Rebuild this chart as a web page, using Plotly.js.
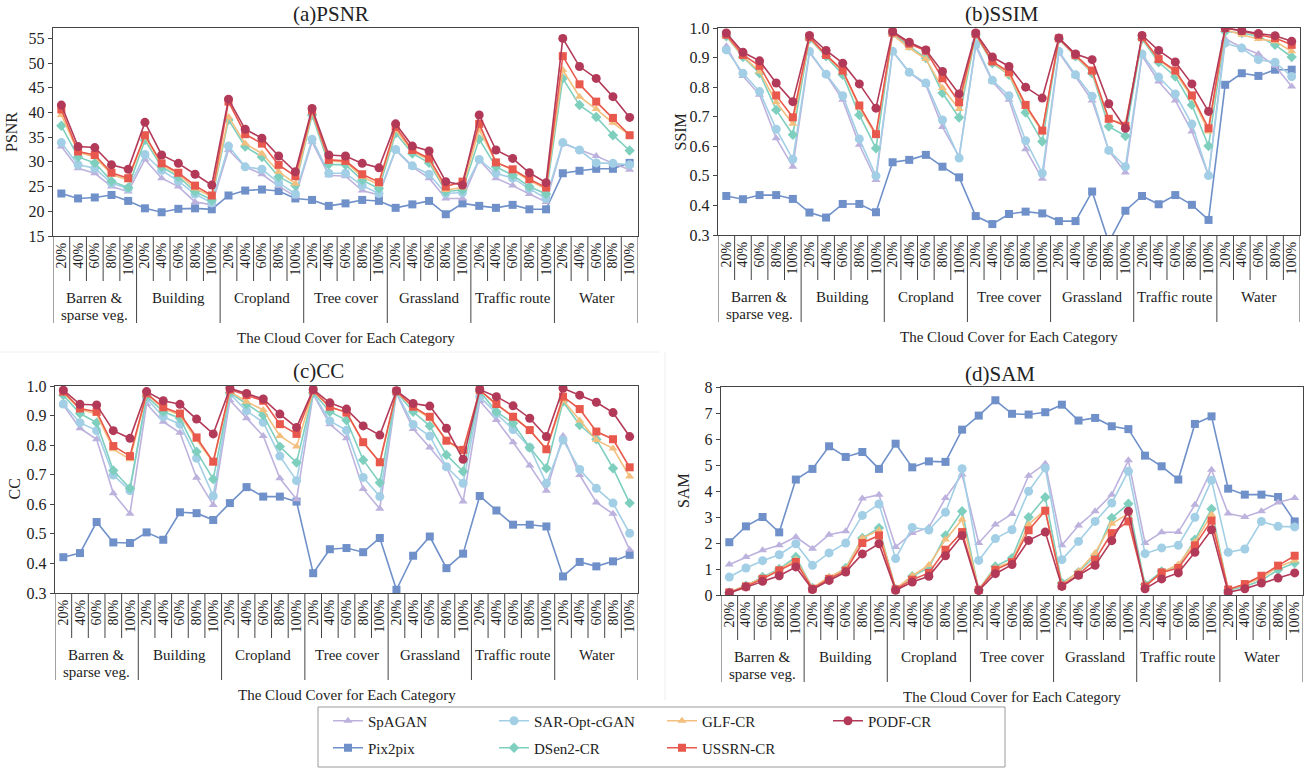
<!DOCTYPE html>
<html>
<head>
<meta charset="utf-8">
<script src="https://cdn.plot.ly/plotly-3.0.1.min.js"></script>
<style>html,body{margin:0;padding:0;background:#fff;}#chart{width:1309px;height:769px;}</style>
</head>
<body>
<div id="chart"></div>
<script>
// ---------- categories / tick labels ----------
const categories = ["Barren &<br>sparse veg.", "Building", "Cropland", "Tree cover", "Grassland", "Traffic route", "Water"];
const covers = ["20%", "40%", "60%", "80%", "100%"];
const seriesNames = ["SpAGAN", "SAR-Opt-cGAN", "GLF-CR", "PODF-CR", "Pix2pix", "DSen2-CR", "USSRN-CR"];
const panelTitles = ["(a)PSNR", "(b)SSIM", "(c)CC", "(d)SAM"];
const yTitles = ["PSNR", "SSIM", "CC", "SAM"];
const xTitle = "The Cloud Cover for Each Category";

// ---------- PSNR ----------
const psnrSpAGAN = [33.1,28.7,27.7,25.0,24.0, 30.5,26.7,25.0,21.9,21.3, 32.4,29.0,27.5,25.1,23.0, 34.1,27.3,27.1,24.2,23.3, 32.4,29.0,26.7,22.6,22.6, 30.4,26.7,25.2,23.5,21.9, 33.7,32.4,31.2,29.7,28.4];
const psnrSAR    = [33.9,29.4,28.7,25.7,24.6, 31.5,28.3,26.1,23.5,21.7, 33.2,29.0,28.5,25.8,23.5, 34.6,27.7,27.7,25.2,23.6, 32.5,29.2,27.5,23.6,23.8, 30.5,27.7,26.7,24.6,22.6, 33.9,32.4,29.8,29.7,29.4];
const psnrGLF    = [39.5,32.0,31.0,27.5,26.3, 35.1,29.4,27.5,24.6,23.0, 39.1,33.7,31.7,28.0,25.6, 40.1,30.2,30.0,27.0,25.4, 36.5,32.1,30.4,24.3,24.8, 36.5,30.0,28.3,26.2,24.5, 48.6,43.2,40.7,37.9,35.4];
const psnrPODF   = [41.5,33.1,32.9,29.4,28.5, 38.0,31.4,29.7,27.5,25.3, 42.7,36.6,34.8,31.2,28.0, 40.8,31.4,31.2,29.7,28.8, 37.7,33.2,32.2,26.0,25.3, 39.5,32.4,30.7,27.8,25.8, 55.0,49.3,46.9,43.2,39.0];
const psnrPix2pix= [23.6,22.6,22.8,23.3,22.1, 20.6,19.8,20.5,20.6,20.4, 23.2,24.2,24.4,24.1,22.6, 22.3,21.1,21.6,22.3,22.1, 20.7,21.4,22.1,19.4,21.6, 21.1,20.7,21.3,20.4,20.4, 27.7,28.2,28.6,28.6,29.8];
const psnrDSen2  = [37.3,31.0,29.8,26.1,24.8, 34.4,29.0,27.0,24.0,22.3, 38.5,33.1,31.0,27.0,25.2, 39.5,29.5,29.4,26.3,24.6, 35.8,31.7,29.8,24.0,24.3, 34.6,29.0,27.3,25.0,23.5, 46.9,41.5,39.1,35.4,32.3];
const psnrUSSRN  = [40.6,32.1,31.4,27.8,26.7, 35.4,29.7,27.8,25.2,23.2, 42.2,35.6,33.7,29.4,27.1, 40.4,30.4,30.2,27.5,25.9, 37.1,32.4,30.7,25.0,26.0, 37.7,29.9,28.5,26.5,24.8, 51.4,45.7,42.2,38.9,35.4];

// ---------- SSIM ----------
const ssimSpAGAN = [0.938,0.838,0.774,0.627,0.531, 0.917,0.842,0.757,0.605,0.486, 0.921,0.850,0.808,0.665,0.565, 0.938,0.819,0.757,0.590,0.490, 0.917,0.838,0.755,0.586,0.511, 0.906,0.819,0.755,0.650,0.501, 0.963,0.935,0.912,0.872,0.802];
const ssimSAR    = [0.926,0.847,0.785,0.658,0.556, 0.921,0.844,0.771,0.625,0.500, 0.921,0.850,0.814,0.689,0.560, 0.945,0.823,0.771,0.619,0.509, 0.921,0.842,0.769,0.586,0.531, 0.912,0.834,0.777,0.675,0.501, 0.949,0.932,0.893,0.884,0.836];
const ssimGLF    = [0.974,0.904,0.853,0.749,0.676, 0.966,0.906,0.853,0.732,0.635, 0.977,0.932,0.895,0.797,0.726, 0.978,0.885,0.842,0.733,0.650, 0.963,0.906,0.850,0.690,0.676, 0.966,0.893,0.850,0.765,0.650, 0.994,0.977,0.963,0.955,0.921];
const ssimPODF   = [0.983,0.918,0.889,0.814,0.751, 0.975,0.924,0.881,0.811,0.729, 0.988,0.952,0.926,0.853,0.777, 0.983,0.902,0.870,0.800,0.763, 0.966,0.912,0.893,0.744,0.661, 0.975,0.924,0.885,0.811,0.718, 1.000,0.991,0.981,0.974,0.955];
const ssimPix2pix= [0.432,0.421,0.435,0.435,0.422, 0.376,0.359,0.405,0.405,0.377, 0.546,0.554,0.571,0.531,0.495, 0.364,0.337,0.371,0.379,0.373, 0.347,0.347,0.447,0.275,0.382, 0.432,0.404,0.435,0.402,0.351, 0.808,0.847,0.838,0.859,0.859];
const ssimDSen2  = [0.972,0.902,0.847,0.723,0.639, 0.963,0.904,0.842,0.706,0.593, 0.981,0.940,0.898,0.780,0.697, 0.976,0.881,0.842,0.714,0.616, 0.962,0.904,0.847,0.667,0.635, 0.963,0.884,0.836,0.740,0.601, 0.988,0.983,0.972,0.943,0.902];
const ssimUSSRN  = [0.977,0.909,0.872,0.772,0.698, 0.969,0.909,0.856,0.738,0.641, 0.985,0.947,0.923,0.830,0.749, 0.980,0.887,0.851,0.740,0.653, 0.965,0.908,0.856,0.693,0.669, 0.969,0.895,0.856,0.772,0.661, 1.000,0.990,0.977,0.966,0.943];

// ---------- CC ----------
const ccSpAGAN = [0.936,0.857,0.820,0.637,0.568, 0.939,0.879,0.842,0.690,0.598, 0.952,0.891,0.831,0.688,0.617, 0.972,0.871,0.823,0.652,0.585, 0.975,0.855,0.792,0.725,0.609, 0.949,0.885,0.810,0.731,0.646, 0.831,0.699,0.606,0.568,0.446];
const ccSAR    = [0.939,0.876,0.849,0.699,0.646, 0.958,0.896,0.871,0.756,0.628, 0.973,0.916,0.877,0.763,0.680, 0.975,0.882,0.850,0.691,0.626, 0.978,0.870,0.831,0.727,0.671, 0.964,0.907,0.853,0.792,0.671, 0.817,0.718,0.654,0.604,0.502];
const ccGLF    = [0.977,0.921,0.905,0.786,0.752, 0.973,0.924,0.902,0.817,0.741, 0.981,0.947,0.919,0.831,0.795, 0.982,0.928,0.912,0.810,0.742, 0.980,0.928,0.891,0.815,0.778, 0.985,0.937,0.898,0.851,0.786, 0.952,0.883,0.817,0.789,0.694];
const ccPODF   = [0.986,0.938,0.936,0.849,0.823, 0.981,0.950,0.938,0.888,0.838, 0.992,0.975,0.956,0.905,0.860, 0.988,0.943,0.922,0.865,0.834, 0.984,0.941,0.932,0.857,0.752, 0.988,0.964,0.933,0.891,0.829, 0.992,0.969,0.945,0.910,0.829];
const ccPix2pix= [0.421,0.435,0.540,0.471,0.469, 0.505,0.480,0.573,0.570,0.547, 0.604,0.658,0.626,0.626,0.609, 0.367,0.448,0.452,0.438,0.486, 0.311,0.426,0.491,0.384,0.433, 0.628,0.579,0.531,0.531,0.525, 0.356,0.405,0.390,0.407,0.429];
const ccDSen2  = [0.969,0.907,0.876,0.714,0.654, 0.966,0.913,0.891,0.778,0.685, 0.977,0.938,0.902,0.795,0.741, 0.978,0.913,0.884,0.750,0.673, 0.980,0.913,0.865,0.767,0.711, 0.982,0.913,0.874,0.792,0.722, 0.947,0.868,0.820,0.722,0.604];
const ccUSSRN  = [0.981,0.924,0.913,0.797,0.763, 0.975,0.928,0.907,0.826,0.744, 0.988,0.969,0.950,0.871,0.838, 0.985,0.930,0.910,0.810,0.742, 0.982,0.930,0.896,0.815,0.784, 0.986,0.939,0.896,0.851,0.786, 0.964,0.922,0.846,0.820,0.725];

// ---------- SAM ----------
const samSpAGAN = [1.17,1.46,1.72,1.91,2.23, 1.78,2.32,2.45,3.71,3.86, 1.85,2.38,2.60,3.73,4.63, 2.00,2.71,3.12,4.59,5.05, 1.91,2.67,3.22,3.86,5.18, 2.00,2.41,2.42,3.47,4.82, 3.13,3.00,3.22,3.56,3.73];
const samSAR    = [0.69,1.04,1.32,1.55,1.97, 1.14,1.62,2.00,3.06,3.50, 1.40,2.60,2.50,3.18,4.86, 1.33,2.17,2.51,3.99,4.88, 1.36,2.06,2.83,3.54,4.76, 1.59,1.81,1.91,2.99,4.41, 1.64,1.77,2.83,2.64,2.62];
const samGLF    = [0.10,0.36,0.65,0.97,1.36, 0.27,0.69,1.00,2.19,2.49, 0.23,0.74,1.15,2.13,2.90, 0.20,1.04,1.29,2.71,3.28, 0.40,0.91,1.62,2.74,3.13, 0.33,0.87,1.17,2.04,3.09, 0.21,0.40,0.65,1.08,1.33];
const samPODF   = [0.08,0.31,0.53,0.74,1.08, 0.21,0.56,0.88,1.58,1.97, 0.18,0.50,0.72,1.51,2.29, 0.17,0.82,1.17,2.10,2.42, 0.33,0.76,1.14,2.09,3.22, 0.24,0.62,0.85,1.64,2.51, 0.10,0.24,0.46,0.65,0.85];
const samPix2pix= [2.03,2.64,3.00,2.41,4.44, 4.85,5.72,5.31,5.50,4.85, 5.82,4.91,5.14,5.12,6.36, 6.90,7.49,6.97,6.94,7.03, 7.32,6.71,6.81,6.49,6.38, 5.36,4.95,4.44,6.58,6.87, 4.09,3.86,3.86,3.77,2.83];
const samDSen2  = [0.10,0.36,0.69,1.00,1.46, 0.27,0.65,1.04,2.19,2.58, 0.23,0.72,1.05,2.29,3.22, 0.20,1.10,1.42,2.99,3.76, 0.46,0.88,1.51,2.96,3.51, 0.40,0.91,1.10,2.13,3.31, 0.18,0.33,0.56,0.97,1.23];
const samUSSRN  = [0.10,0.33,0.62,0.95,1.27, 0.24,0.62,0.94,2.00,2.29, 0.22,0.59,0.85,1.74,2.42, 0.20,0.97,1.26,2.49,3.24, 0.36,0.78,1.36,2.38,2.83, 0.33,0.87,1.04,1.91,2.86, 0.21,0.42,0.74,1.13,1.51];

// ---------- assemble ----------
const W = 1309, H = 769;
const FONT = "Liberation Serif, Times New Roman, serif";
const px = v => v / W;
const py = v => 1 - v / H;

const metrics = [
  {SpAGAN: psnrSpAGAN, "SAR-Opt-cGAN": psnrSAR, "GLF-CR": psnrGLF, "PODF-CR": psnrPODF, Pix2pix: psnrPix2pix, "DSen2-CR": psnrDSen2, "USSRN-CR": psnrUSSRN},
  {SpAGAN: ssimSpAGAN, "SAR-Opt-cGAN": ssimSAR, "GLF-CR": ssimGLF, "PODF-CR": ssimPODF, Pix2pix: ssimPix2pix, "DSen2-CR": ssimDSen2, "USSRN-CR": ssimUSSRN},
  {SpAGAN: ccSpAGAN, "SAR-Opt-cGAN": ccSAR, "GLF-CR": ccGLF, "PODF-CR": ccPODF, Pix2pix: ccPix2pix, "DSen2-CR": ccDSen2, "USSRN-CR": ccUSSRN},
  {SpAGAN: samSpAGAN, "SAR-Opt-cGAN": samSAR, "GLF-CR": samGLF, "PODF-CR": samPODF, Pix2pix: samPix2pix, "DSen2-CR": samDSen2, "USSRN-CR": samUSSRN}
];

const style = {
  "SpAGAN":       {color: "#bdb2de", symbol: "triangle-up", size: 8},
  "SAR-Opt-cGAN": {color: "#a2cfe5", symbol: "circle",      size: 9},
  "GLF-CR":       {color: "#f3bf7f", symbol: "triangle-up", size: 8},
  "PODF-CR":      {color: "#b23a58", symbol: "circle",      size: 9},
  "Pix2pix":      {color: "#6f90c9", symbol: "square",      size: 8},
  "DSen2-CR":     {color: "#7fcfbf", symbol: "diamond",     size: 8},
  "USSRN-CR":     {color: "#e8584d", symbol: "square",      size: 8}
};
const drawOrder = ["Pix2pix", "SpAGAN", "SAR-Opt-cGAN", "DSen2-CR", "GLF-CR", "USSRN-CR", "PODF-CR"];

const xIdx = [];
const xText = [];
categories.forEach((c, i) => covers.forEach((p, j) => { xIdx.push(i * covers.length + j); xText.push(p); }));
const nX = xIdx.length;

// panel geometry in pixels: left, right, top, bottom
const panels = [
  {l: 53, r: 638, t: 28, b: 236, range: [15, 57.1], dtick: 5, fmt: "", titleX: 331, titleY: 14, yTitleX: 12},
  {l: 718, r: 1300, t: 28, b: 235, range: [0.3, 1.0], dtick: 0.1, fmt: ".1f", titleX: 1002, titleY: 14, yTitleX: 680},
  {l: 55, r: 638, t: 386, b: 593, range: [0.3, 1.0], dtick: 0.1, fmt: ".1f", titleX: 318, titleY: 371, yTitleX: 14},
  {l: 721, r: 1303, t: 387, b: 595, range: [0, 8], dtick: 1, fmt: "", titleX: 1000, titleY: 374, yTitleX: 683}
];

// legend slots (one legend per entry, laid out as in the reference: 4 columns x 2 rows)
const legendCols = [328, 494, 662, 828];
const legendRows = [721, 748];
const legendIds = {};
seriesNames.forEach((name, i) => { legendIds[name] = i === 0 ? "legend" : "legend" + (i + 1); });

const traces = [];
metrics.forEach((m, k) => {
  const sfx = k === 0 ? "" : String(k + 1);
  drawOrder.forEach(name => {
    const s = style[name];
    traces.push({
      type: "scatter", mode: "lines+markers", name: name,
      x: xIdx, y: m[name],
      xaxis: "x" + sfx, yaxis: "y" + sfx,
      line: {color: s.color, width: 1.6},
      marker: {color: s.color, symbol: s.symbol, size: s.size},
      legendgroup: name, showlegend: k === 0, legend: legendIds[name]
    });
  });
});

const layout = {
  width: W, height: H, margin: {l: 0, r: 0, t: 0, b: 0},
  paper_bgcolor: "#fff", plot_bgcolor: "#fff",
  font: {family: FONT, color: "#222", size: 15},
  shapes: [], annotations: []
};
seriesNames.forEach((name, i) => {
  layout[legendIds[name]] = {
    orientation: "h", x: px(legendCols[i % 4]), xanchor: "left",
    y: py(legendRows[Math.floor(i / 4)]), yanchor: "middle",
    bgcolor: "rgba(0,0,0,0)", borderwidth: 0,
    font: {family: FONT, size: 15, color: "#222"}
  };
});

panels.forEach((p, k) => {
  const sfx = k === 0 ? "" : String(k + 1);
  layout["xaxis" + sfx] = {
    domain: [px(p.l), px(p.r)], anchor: "y" + sfx, range: [-0.5, nX - 0.5],
    tickmode: "array", tickvals: xIdx, ticktext: xText, tickangle: -90, ticks: "",
    tickfont: {family: FONT, size: 14, color: "#222"},
    showline: true, mirror: true, linecolor: "#444", linewidth: 1.2,
    showgrid: false, zeroline: false, fixedrange: true
  };
  layout["yaxis" + sfx] = {
    domain: [py(p.b), py(p.t)], anchor: "x" + sfx, range: p.range, dtick: p.dtick, tickformat: p.fmt,
    ticks: "outside", ticklen: 4, tickcolor: "#444",
    tickfont: {family: FONT, size: 16, color: "#222"},
    showline: true, mirror: true, linecolor: "#444", linewidth: 1.2,
    showgrid: false, zeroline: false, fixedrange: true
  };
  // table-like separators under the axis
  for (let b = 0; b <= nX; b++) {
    const major = b % covers.length === 0;
    layout.shapes.push({
      type: "line", xref: "x" + sfx, yref: "paper",
      x0: b - 0.5, x1: b - 0.5, y0: py(p.b), y1: py(p.b + (major ? 87 : 45)),
      line: {color: "#444", width: 1}
    });
  }
  categories.forEach((c, i) => {
    c.split("<br>").forEach((line, li) => {
      layout.annotations.push({
        xref: "x" + sfx, yref: "paper", x: i * covers.length + (covers.length - 1) / 2,
        y: py(p.b + 62 + li * 17), yanchor: "middle", xanchor: "center", showarrow: false,
        text: line, font: {family: FONT, size: 15, color: "#222"}
      });
    });
  });
  layout.annotations.push({
    xref: "paper", yref: "paper", x: px((p.l + p.r) / 2), y: py(p.b + 102), xanchor: "center", yanchor: "middle",
    showarrow: false, text: xTitle, font: {family: FONT, size: 15, color: "#222"}
  });
  layout.annotations.push({
    xref: "paper", yref: "paper", x: px(p.titleX), y: py(p.titleY), xanchor: "center", yanchor: "middle",
    showarrow: false, text: panelTitles[k], font: {family: FONT, size: 21, color: "#222"}
  });
  layout.annotations.push({
    xref: "paper", yref: "paper", x: px(p.yTitleX), y: py((p.t + p.b) / 2), xanchor: "center", yanchor: "middle",
    showarrow: false, textangle: -90, text: yTitles[k], font: {family: FONT, size: 16, color: "#222"}
  });
});

// legend frame
layout.shapes.push({type: "rect", xref: "paper", yref: "paper", x0: px(318), x1: px(1005), y0: py(707), y1: py(767),
  line: {color: "#9a9a9a", width: 1}, fillcolor: "rgba(0,0,0,0)"});
// faint panel separators
layout.shapes.push({type: "line", xref: "paper", yref: "paper", x0: px(665), x1: px(665), y0: py(352), y1: py(700),
  line: {color: "#eeeeee", width: 1}});
layout.shapes.push({type: "line", xref: "paper", yref: "paper", x0: px(0), x1: px(660), y0: py(352), y1: py(352),
  line: {color: "#f2f2f2", width: 1}});

Plotly.newPlot("chart", traces, layout, {displayModeBar: false, staticPlot: true});
</script>
</body>
</html>
